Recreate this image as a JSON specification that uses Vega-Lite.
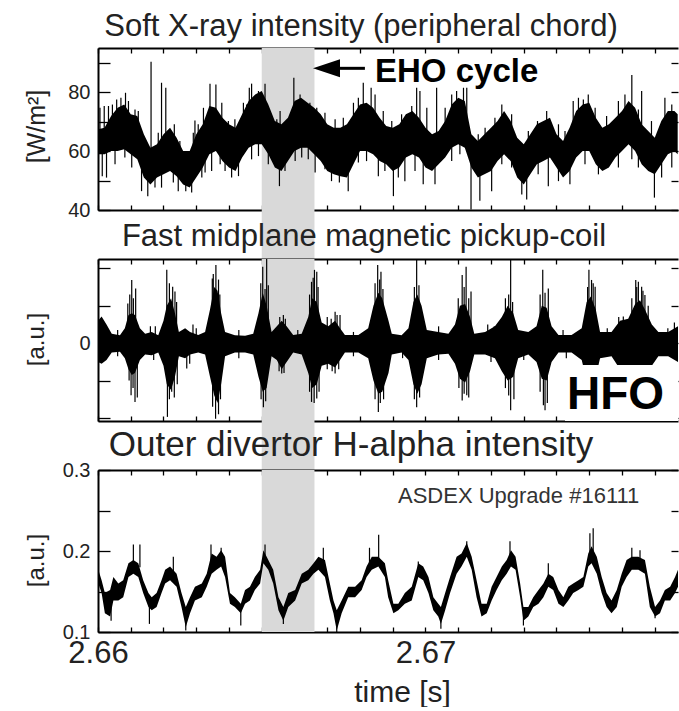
{
  "$schema": "https://vega.github.io/schema/vega-lite/v6.json",
  "padding": {"left": 24, "top": 11, "right": 0, "bottom": 0},
  "spacing": 49,
  "bounds": "flush",
  "config": {
    "view": {"stroke": null},
    "font": "Liberation Sans",
    "title": {"font": "Liberation Sans", "fontSize": 31, "fontWeight": "normal", "color": "#222", "anchor": "middle", "baseline": "alphabetic", "frame": "group"},
    "axis": {"grid": false, "zindex": 1, "domainColor": "black", "domainWidth": 2, "tickColor": "black", "tickWidth": 1.3, "labelFont": "Liberation Sans", "titleFont": "Liberation Sans", "labelColor": "#222", "titleColor": "#222", "titleFontWeight": "normal", "labelOverlap": false, "labelFlush": false}
  },
  "datasets": {
    "sxr": [
      {"t":2.6600,"lo":58.9,"hi":67.4},{"t":2.6602,"lo":58.9,"hi":67.9},{"t":2.6604,"lo":60.0,"hi":71.9},{"t":2.6606,"lo":60.0,"hi":74.7},{"t":2.6608,"lo":60.6,"hi":75.8},{"t":2.6610,"lo":58.9,"hi":72.5},{"t":2.6612,"lo":57.2,"hi":71.9},{"t":2.6614,"lo":51.0,"hi":65.7},{"t":2.6616,"lo":48.7,"hi":61.1},{"t":2.6618,"lo":51.0,"hi":62.3},
      {"t":2.6620,"lo":52.1,"hi":65.7},{"t":2.6622,"lo":53.2,"hi":67.9},{"t":2.6624,"lo":51.5,"hi":64.5},{"t":2.6626,"lo":48.7,"hi":60.0},{"t":2.6628,"lo":47.6,"hi":60.0},{"t":2.6630,"lo":51.0,"hi":65.7},{"t":2.6632,"lo":54.4,"hi":69.1},{"t":2.6634,"lo":58.9,"hi":75.3},{"t":2.6636,"lo":60.0,"hi":74.7},{"t":2.6638,"lo":56.6,"hi":71.3},
      {"t":2.6640,"lo":54.4,"hi":69.1},{"t":2.6642,"lo":53.2,"hi":67.9},{"t":2.6644,"lo":57.8,"hi":72.5},{"t":2.6646,"lo":61.1,"hi":77.0},{"t":2.6648,"lo":62.3,"hi":79.2},{"t":2.6650,"lo":62.3,"hi":80.4},{"t":2.6652,"lo":58.9,"hi":75.8},{"t":2.6654,"lo":54.4,"hi":70.2},{"t":2.6656,"lo":53.2,"hi":69.1},{"t":2.6658,"lo":56.6,"hi":71.3},
      {"t":2.6660,"lo":60.0,"hi":77.0},{"t":2.6662,"lo":61.1,"hi":78.1},{"t":2.6664,"lo":61.1,"hi":76.4},{"t":2.6666,"lo":58.9,"hi":74.7},{"t":2.6668,"lo":56.6,"hi":72.5},{"t":2.6670,"lo":53.2,"hi":69.1},{"t":2.6672,"lo":52.1,"hi":67.9},{"t":2.6674,"lo":51.5,"hi":67.9},{"t":2.6676,"lo":51.0,"hi":69.1},{"t":2.6678,"lo":55.5,"hi":72.5},
      {"t":2.6680,"lo":60.0,"hi":75.8},{"t":2.6682,"lo":60.0,"hi":76.4},{"t":2.6684,"lo":58.9,"hi":74.7},{"t":2.6686,"lo":56.6,"hi":71.3},{"t":2.6688,"lo":55.5,"hi":68.5},{"t":2.6690,"lo":53.2,"hi":67.9},{"t":2.6692,"lo":54.4,"hi":69.1},{"t":2.6694,"lo":57.8,"hi":72.5},{"t":2.6696,"lo":58.9,"hi":73.6},{"t":2.6698,"lo":57.8,"hi":71.3},
      {"t":2.6700,"lo":54.4,"hi":67.9},{"t":2.6702,"lo":53.2,"hi":65.7},{"t":2.6704,"lo":55.5,"hi":66.8},{"t":2.6706,"lo":57.8,"hi":70.2},{"t":2.6708,"lo":61.1,"hi":75.8},{"t":2.6710,"lo":62.3,"hi":78.1},{"t":2.6712,"lo":61.1,"hi":77.0},{"t":2.6714,"lo":54.4,"hi":65.7},{"t":2.6716,"lo":51.0,"hi":63.4},{"t":2.6718,"lo":52.1,"hi":65.7},
      {"t":2.6720,"lo":53.2,"hi":67.9},{"t":2.6722,"lo":56.6,"hi":70.2},{"t":2.6724,"lo":58.9,"hi":73.6},{"t":2.6726,"lo":56.6,"hi":70.2},{"t":2.6728,"lo":51.0,"hi":64.5},{"t":2.6730,"lo":48.7,"hi":62.3},{"t":2.6732,"lo":52.1,"hi":65.7},{"t":2.6734,"lo":55.5,"hi":69.1},{"t":2.6736,"lo":56.6,"hi":70.2},{"t":2.6738,"lo":57.8,"hi":71.3},
      {"t":2.6740,"lo":54.4,"hi":65.7},{"t":2.6742,"lo":51.0,"hi":63.4},{"t":2.6744,"lo":53.2,"hi":67.9},{"t":2.6746,"lo":57.8,"hi":73.6},{"t":2.6748,"lo":60.0,"hi":75.8},{"t":2.6750,"lo":60.0,"hi":76.4},{"t":2.6752,"lo":55.5,"hi":71.3},{"t":2.6754,"lo":53.2,"hi":67.9},{"t":2.6756,"lo":54.4,"hi":69.1},{"t":2.6758,"lo":57.8,"hi":71.3},
      {"t":2.6760,"lo":60.0,"hi":73.6},{"t":2.6762,"lo":62.3,"hi":77.0},{"t":2.6764,"lo":60.0,"hi":74.7},{"t":2.6766,"lo":55.5,"hi":69.1},{"t":2.6768,"lo":53.2,"hi":66.8},{"t":2.6770,"lo":52.1,"hi":64.5},{"t":2.6772,"lo":55.5,"hi":70.2},{"t":2.6774,"lo":58.9,"hi":73.6},{"t":2.6776,"lo":60.0,"hi":73.6},{"t":2.6777,"lo":58.9,"hi":72.5}
    ],
    "sxrSpk": [
      {"t":2.66032,"a":75.3,"b":65},{"t":2.66057,"a":77.5,"b":68},{"t":2.66070,"a":78.1,"b":68},{"t":2.66084,"a":79.8,"b":70},{"t":2.66113,"a":74.1,"b":65},{"t":2.66162,"a":90.3,"b":55},{"t":2.66194,"a":83.2,"b":58},{"t":2.66207,"a":81.5,"b":58},{"t":2.66233,"a":69.1,"b":60},{"t":2.66296,"a":70.4,"b":58},
      {"t":2.66322,"a":74.7,"b":62},{"t":2.66342,"a":82.9,"b":66},{"t":2.66360,"a":82.6,"b":66},{"t":2.66378,"a":76.4,"b":64},{"t":2.66444,"a":76.4,"b":64},{"t":2.66462,"a":81.5,"b":68},{"t":2.66469,"a":82.9,"b":68},{"t":2.66510,"a":82.9,"b":70},{"t":2.66556,"a":73.6,"b":62},{"t":2.66598,"a":84.9,"b":68},
      {"t":2.66617,"a":79.2,"b":68},{"t":2.66724,"a":70.8,"b":60},{"t":2.66749,"a":71.3,"b":60},{"t":2.66810,"a":83.2,"b":68},{"t":2.66834,"a":81.5,"b":68},{"t":2.66846,"a":79.2,"b":66},{"t":2.66958,"a":75.3,"b":66},{"t":2.66973,"a":81.5,"b":66},{"t":2.66983,"a":80.4,"b":64},{"t":2.67034,"a":81.5,"b":62},
      {"t":2.67116,"a":81.5,"b":70},{"t":2.67126,"a":81.5,"b":68},{"t":2.67233,"a":75.8,"b":66},{"t":2.67342,"a":70.2,"b":62},{"t":2.67370,"a":73.6,"b":64},{"t":2.67451,"a":77.0,"b":66},{"t":2.67497,"a":79.2,"b":68},{"t":2.67589,"a":77.0,"b":66},{"t":2.67630,"a":85.8,"b":70},{"t":2.67660,"a":80.4,"b":64},{"t":2.67731,"a":78.1,"b":66},
      {"t":2.66013,"a":51.5,"b":62},{"t":2.66026,"a":51.0,"b":62},{"t":2.66133,"a":46.4,"b":58},{"t":2.66152,"a":44.7,"b":56},{"t":2.66174,"a":47.6,"b":56},{"t":2.66230,"a":49.3,"b":58},{"t":2.66268,"a":46.4,"b":54},{"t":2.66286,"a":45.9,"b":54},{"t":2.66347,"a":53.2,"b":64},{"t":2.66373,"a":55.5,"b":64},
      {"t":2.66408,"a":51.0,"b":60},{"t":2.66554,"a":48.1,"b":60},{"t":2.66571,"a":53.2,"b":62},{"t":2.66663,"a":52.7,"b":64},{"t":2.66713,"a":49.8,"b":60},{"t":2.66737,"a":49.3,"b":58},{"t":2.66764,"a":46.4,"b":58},{"t":2.66856,"a":51.5,"b":62},{"t":2.66902,"a":44.7,"b":58},{"t":2.66937,"a":49.8,"b":60},
      {"t":2.66993,"a":48.7,"b":60},{"t":2.67029,"a":48.7,"b":60},{"t":2.67139,"a":40.2,"b":60},{"t":2.67166,"a":43.1,"b":58},{"t":2.67202,"a":46.4,"b":58},{"t":2.67294,"a":45.3,"b":56},{"t":2.67309,"a":43.6,"b":56},{"t":2.67375,"a":48.1,"b":60},{"t":2.67441,"a":48.7,"b":60},{"t":2.67528,"a":52.1,"b":60},{"t":2.67699,"a":44.2,"b":58},{"t":2.67721,"a":51.0,"b":60},
      {"t":2.66006,"a":74.7,"b":63},{"t":2.66019,"a":75.3,"b":63},{"t":2.66044,"a":75.8,"b":66},{"t":2.66093,"a":77.0,"b":66},{"t":2.66123,"a":73.6,"b":64},{"t":2.66184,"a":66.2,"b":57},{"t":2.66220,"a":67.4,"b":59},{"t":2.66250,"a":63.4,"b":56},{"t":2.66291,"a":66.2,"b":56},{"t":2.66306,"a":69.1,"b":58},
      {"t":2.66398,"a":70.2,"b":62},{"t":2.66418,"a":70.8,"b":61},{"t":2.66454,"a":75.8,"b":68},{"t":2.66490,"a":80.4,"b":70},{"t":2.66530,"a":71.9,"b":64},{"t":2.66546,"a":70.8,"b":62},{"t":2.66647,"a":76.4,"b":68},{"t":2.66668,"a":74.7,"b":66},{"t":2.66693,"a":73.0,"b":64},{"t":2.66780,"a":76.4,"b":66},
      {"t":2.66795,"a":78.1,"b":68},{"t":2.66871,"a":73.6,"b":63},{"t":2.66897,"a":70.2,"b":62},{"t":2.66927,"a":72.5,"b":62},{"t":2.67004,"a":74.7,"b":62},{"t":2.67060,"a":74.7,"b":64},{"t":2.67080,"a":79.2,"b":68},{"t":2.67095,"a":80.4,"b":70},{"t":2.67161,"a":65.7,"b":57},{"t":2.67182,"a":67.9,"b":58},
      {"t":2.67212,"a":71.3,"b":61},{"t":2.67263,"a":72.5,"b":63},{"t":2.67314,"a":66.8,"b":58},{"t":2.67406,"a":69.1,"b":60},{"t":2.67426,"a":66.8,"b":58},{"t":2.67467,"a":78.1,"b":68},{"t":2.67482,"a":77.5,"b":68},{"t":2.67518,"a":74.7,"b":64},{"t":2.67553,"a":71.9,"b":62},{"t":2.67609,"a":79.2,"b":68},
      {"t":2.67650,"a":74.1,"b":64},{"t":2.67690,"a":70.2,"b":60},{"t":2.67752,"a":75.8,"b":66},
      {"t":2.66052,"a":55.5,"b":65},{"t":2.66082,"a":57.8,"b":66},{"t":2.66103,"a":54.4,"b":64},{"t":2.66194,"a":47.6,"b":58},{"t":2.66245,"a":46.4,"b":58},{"t":2.66317,"a":51.0,"b":60},{"t":2.66327,"a":52.7,"b":62},{"t":2.66388,"a":53.2,"b":62},{"t":2.66429,"a":51.5,"b":60},{"t":2.66469,"a":57.2,"b":68},
      {"t":2.66490,"a":58.3,"b":70},{"t":2.66520,"a":55.5,"b":66},{"t":2.66602,"a":56.6,"b":68},{"t":2.66622,"a":57.8,"b":68},{"t":2.66642,"a":57.2,"b":68},{"t":2.66693,"a":53.8,"b":62},{"t":2.66795,"a":56.1,"b":66},{"t":2.66820,"a":56.6,"b":68},{"t":2.66876,"a":53.2,"b":62},{"t":2.66917,"a":51.0,"b":60},
      {"t":2.66968,"a":53.2,"b":62},{"t":2.67080,"a":56.6,"b":66},{"t":2.67105,"a":58.9,"b":68},{"t":2.67233,"a":55.5,"b":64},{"t":2.67263,"a":54.4,"b":63},{"t":2.67344,"a":52.1,"b":62},{"t":2.67406,"a":49.8,"b":60},{"t":2.67487,"a":55.5,"b":66},{"t":2.67589,"a":54.4,"b":64},{"t":2.67630,"a":57.2,"b":66},
      {"t":2.67650,"a":54.4,"b":63},{"t":2.67752,"a":54.4,"b":64}
    ],
    "mag": [
      {"t":2.66000,"lo":-0.5,"hi":0.6},{"t":2.66011,"lo":-0.55,"hi":0.71},{"t":2.66026,"lo":-0.45,"hi":0.5},{"t":2.66042,"lo":-0.25,"hi":0.25},{"t":2.66067,"lo":-0.23,"hi":0.21},{"t":2.66082,"lo":-0.4,"hi":0.4},{"t":2.66093,"lo":-0.7,"hi":0.75},{"t":2.66103,"lo":-0.85,"hi":0.8},{"t":2.66113,"lo":-0.8,"hi":0.75},{"t":2.66128,"lo":-0.45,"hi":0.4},
      {"t":2.66144,"lo":-0.3,"hi":0.25},{"t":2.66164,"lo":-0.32,"hi":0.3},{"t":2.66184,"lo":-0.25,"hi":0.21},{"t":2.66200,"lo":-0.6,"hi":0.6},{"t":2.66210,"lo":-1.1,"hi":1.0},{"t":2.66223,"lo":-1.25,"hi":1.2},{"t":2.66235,"lo":-0.9,"hi":0.8},{"t":2.66247,"lo":-0.35,"hi":0.3},{"t":2.66266,"lo":-0.4,"hi":0.4},{"t":2.66281,"lo":-0.3,"hi":0.3},
      {"t":2.66306,"lo":-0.25,"hi":0.22},{"t":2.66327,"lo":-0.3,"hi":0.3},{"t":2.66342,"lo":-0.9,"hi":0.9},{"t":2.66355,"lo":-1.4,"hi":1.5},{"t":2.66365,"lo":-1.6,"hi":1.4},{"t":2.66376,"lo":-1.1,"hi":0.8},{"t":2.66388,"lo":-0.35,"hi":0.3},{"t":2.66418,"lo":-0.25,"hi":0.21},{"t":2.66449,"lo":-0.25,"hi":0.2},{"t":2.66474,"lo":-0.3,"hi":0.25},
      {"t":2.66490,"lo":-0.9,"hi":0.8},{"t":2.66503,"lo":-1.3,"hi":1.35},{"t":2.66515,"lo":-1.2,"hi":1.0},{"t":2.66530,"lo":-0.35,"hi":0.3},{"t":2.66546,"lo":-0.45,"hi":0.45},{"t":2.66561,"lo":-0.7,"hi":0.6},{"t":2.66576,"lo":-0.5,"hi":0.45},{"t":2.66596,"lo":-0.25,"hi":0.22},{"t":2.66622,"lo":-0.3,"hi":0.25},{"t":2.66642,"lo":-0.8,"hi":0.7},
      {"t":2.66654,"lo":-1.2,"hi":1.2},{"t":2.66668,"lo":-1.1,"hi":1.1},{"t":2.66683,"lo":-0.6,"hi":0.55},{"t":2.66703,"lo":-0.55,"hi":0.45},{"t":2.66724,"lo":-0.65,"hi":0.6},{"t":2.66739,"lo":-0.45,"hi":0.4},{"t":2.66754,"lo":-0.25,"hi":0.22},{"t":2.66795,"lo":-0.25,"hi":0.22},{"t":2.66825,"lo":-0.4,"hi":0.4},{"t":2.66841,"lo":-1.0,"hi":1.0},
      {"t":2.66856,"lo":-1.35,"hi":1.35},{"t":2.66868,"lo":-1.3,"hi":1.2},{"t":2.66887,"lo":-0.8,"hi":0.6},{"t":2.66897,"lo":-0.3,"hi":0.25},{"t":2.66927,"lo":-0.25,"hi":0.21},{"t":2.66948,"lo":-0.45,"hi":0.4},{"t":2.66963,"lo":-1.1,"hi":1.1},{"t":2.66975,"lo":-1.35,"hi":1.3},{"t":2.66988,"lo":-1.1,"hi":1.0},{"t":2.67004,"lo":-0.4,"hi":0.35},
      {"t":2.67039,"lo":-0.3,"hi":0.3},{"t":2.67070,"lo":-0.28,"hi":0.25},{"t":2.67090,"lo":-0.55,"hi":0.5},{"t":2.67105,"lo":-0.95,"hi":1.0},{"t":2.67121,"lo":-1.05,"hi":1.05},{"t":2.67136,"lo":-0.75,"hi":0.7},{"t":2.67149,"lo":-0.3,"hi":0.25},{"t":2.67182,"lo":-0.3,"hi":0.3},{"t":2.67212,"lo":-0.4,"hi":0.45},{"t":2.67233,"lo":-0.75,"hi":0.7},
      {"t":2.67251,"lo":-1.0,"hi":1.0},{"t":2.67268,"lo":-0.9,"hi":0.8},{"t":2.67283,"lo":-0.4,"hi":0.35},{"t":2.67314,"lo":-0.3,"hi":0.3},{"t":2.67339,"lo":-0.5,"hi":0.45},{"t":2.67355,"lo":-0.95,"hi":1.0},{"t":2.67370,"lo":-1.0,"hi":0.95},{"t":2.67385,"lo":-0.5,"hi":0.45},{"t":2.67406,"lo":-0.25,"hi":0.22},{"t":2.67446,"lo":-0.25,"hi":0.22},
      {"t":2.67477,"lo":-0.45,"hi":0.4},{"t":2.67492,"lo":-1.0,"hi":1.1},{"t":2.67505,"lo":-1.1,"hi":1.25},{"t":2.67520,"lo":-0.9,"hi":0.9},{"t":2.67533,"lo":-0.4,"hi":0.3},{"t":2.67568,"lo":-0.35,"hi":0.3},{"t":2.67594,"lo":-0.7,"hi":0.6},{"t":2.67619,"lo":-0.8,"hi":0.65},{"t":2.67640,"lo":-1.0,"hi":1.05},{"t":2.67655,"lo":-1.1,"hi":1.15},
      {"t":2.67670,"lo":-0.9,"hi":0.9},{"t":2.67691,"lo":-0.6,"hi":0.5},{"t":2.67711,"lo":-0.35,"hi":0.3},{"t":2.67741,"lo":-0.35,"hi":0.3},{"t":2.67771,"lo":-0.5,"hi":0.45}
    ],
    "magSpk": [
      {"t":2.66103,"a":1.69,"b":0},{"t":2.66091,"a":1.06,"b":0},{"t":2.66115,"a":1.46,"b":0},{"t":2.66210,"a":1.96,"b":0},{"t":2.66228,"a":1.51,"b":0},{"t":2.66235,"a":1.38,"b":0},{"t":2.66360,"a":2.09,"b":0},{"t":2.66349,"a":1.73,"b":0},{"t":2.66503,"a":2.04,"b":0},{"t":2.66515,"a":2.25,"b":0},
      {"t":2.66520,"a":1.55,"b":0},{"t":2.66661,"a":1.96,"b":0},{"t":2.66668,"a":1.91,"b":0},{"t":2.66652,"a":1.64,"b":0},{"t":2.66724,"a":0.84,"b":0},{"t":2.66739,"a":0.75,"b":0},{"t":2.66854,"a":2.09,"b":0},{"t":2.66864,"a":1.91,"b":0},{"t":2.66566,"a":0.75,"b":0},{"t":2.66973,"a":2.25,"b":-1.71},
      {"t":2.67112,"a":1.82,"b":-1.53},{"t":2.67124,"a":2.04,"b":0},{"t":2.67139,"a":1.38,"b":0},{"t":2.67260,"a":2.25,"b":-1.79},{"t":2.67358,"a":1.96,"b":0},{"t":2.67375,"a":1.46,"b":0},{"t":2.67499,"a":1.96,"b":0},{"t":2.67507,"a":1.69,"b":0},{"t":2.67518,"a":1.51,"b":0},{"t":2.67642,"a":1.69,"b":0},
      {"t":2.67650,"a":1.64,"b":0},{"t":2.67660,"a":1.51,"b":0},{"t":2.67670,"a":1.29,"b":0},{"t":2.67604,"a":0.71,"b":0},
      {"t":2.66113,"a":-1.57,"b":0},{"t":2.66101,"a":-1.39,"b":0},{"t":2.66212,"a":-1.97,"b":0},{"t":2.66225,"a":-1.30,"b":0},{"t":2.66359,"a":-2.02,"b":0},{"t":2.66505,"a":-1.71,"b":0},{"t":2.66652,"a":-1.57,"b":0},{"t":2.66668,"a":-1.48,"b":0},{"t":2.66856,"a":-1.84,"b":0},{"t":2.66271,"a":-0.68,"b":0},
      {"t":2.66561,"a":-0.81,"b":0},{"t":2.66724,"a":-0.81,"b":0},{"t":2.67126,"a":-1.39,"b":0},{"t":2.67365,"a":-1.79,"b":0},{"t":2.67360,"a":-1.66,"b":0},
      {"t":2.66097,"a":1.30,"b":0},{"t":2.66108,"a":1.20,"b":0},{"t":2.66095,"a":-1.0,"b":0},{"t":2.66107,"a":-1.2,"b":0},{"t":2.66120,"a":-1.45,"b":0},
      {"t":2.66218,"a":1.6,"b":0},{"t":2.66240,"a":1.1,"b":0},{"t":2.66218,"a":-1.5,"b":0},{"t":2.66233,"a":-1.45,"b":0},{"t":2.66242,"a":-1.1,"b":0},
      {"t":2.66352,"a":1.85,"b":0},{"t":2.66368,"a":1.7,"b":0},{"t":2.66372,"a":1.3,"b":0},{"t":2.66350,"a":-1.7,"b":0},{"t":2.66368,"a":-1.9,"b":0},{"t":2.66374,"a":-1.5,"b":0},
      {"t":2.66497,"a":1.6,"b":0},{"t":2.66510,"a":1.45,"b":0},{"t":2.66498,"a":-1.5,"b":0},{"t":2.66512,"a":-1.55,"b":0},
      {"t":2.66555,"a":0.7,"b":0},{"t":2.66572,"a":0.65,"b":0},{"t":2.66553,"a":-0.75,"b":0},{"t":2.66568,"a":-0.8,"b":0},
      {"t":2.66646,"a":1.3,"b":0},{"t":2.66657,"a":1.75,"b":0},{"t":2.66672,"a":1.5,"b":0},{"t":2.66646,"a":-1.3,"b":0},{"t":2.66660,"a":-1.6,"b":0},{"t":2.66675,"a":-1.3,"b":0},
      {"t":2.66700,"a":0.7,"b":0},{"t":2.66712,"a":0.65,"b":0},{"t":2.66730,"a":0.75,"b":0},{"t":2.66700,"a":-0.7,"b":0},{"t":2.66715,"a":-0.75,"b":0},{"t":2.66735,"a":-0.7,"b":0},
      {"t":2.66846,"a":1.6,"b":0},{"t":2.66860,"a":1.7,"b":0},{"t":2.66870,"a":1.45,"b":0},{"t":2.66846,"a":-1.5,"b":0},{"t":2.66862,"a":-1.6,"b":0},{"t":2.66872,"a":-1.5,"b":0},
      {"t":2.66966,"a":1.5,"b":0},{"t":2.66980,"a":1.55,"b":0},{"t":2.66966,"a":-1.5,"b":0},{"t":2.66982,"a":-1.45,"b":0},
      {"t":2.67100,"a":1.2,"b":0},{"t":2.67118,"a":1.5,"b":0},{"t":2.67132,"a":1.2,"b":0},{"t":2.67102,"a":-1.2,"b":0},{"t":2.67118,"a":-1.35,"b":0},{"t":2.67132,"a":-1.45,"b":0},
      {"t":2.67244,"a":1.2,"b":0},{"t":2.67254,"a":1.3,"b":0},{"t":2.67266,"a":1.1,"b":0},{"t":2.67244,"a":-1.2,"b":0},{"t":2.67254,"a":-1.4,"b":0},{"t":2.67270,"a":-1.5,"b":0},
      {"t":2.67350,"a":1.3,"b":0},{"t":2.67365,"a":1.35,"b":0},{"t":2.67350,"a":-1.3,"b":0},{"t":2.67372,"a":-1.6,"b":0},
      {"t":2.67495,"a":1.5,"b":0},{"t":2.67512,"a":1.6,"b":0},
      {"t":2.67630,"a":1.2,"b":0},{"t":2.67645,"a":1.5,"b":0},{"t":2.67664,"a":1.4,"b":0},{"t":2.67680,"a":1.0,"b":0},
      {"t":2.66060,"a":0.35,"b":0},{"t":2.66160,"a":0.45,"b":0},{"t":2.66175,"a":0.45,"b":0},{"t":2.66290,"a":0.5,"b":0},{"t":2.66300,"a":0.4,"b":0},{"t":2.66430,"a":0.35,"b":0},{"t":2.66610,"a":0.35,"b":0},{"t":2.66780,"a":0.3,"b":0},{"t":2.67040,"a":0.45,"b":0},{"t":2.67190,"a":0.5,"b":0},
      {"t":2.67210,"a":0.45,"b":0},{"t":2.67420,"a":0.35,"b":0},{"t":2.67555,"a":0.4,"b":0},{"t":2.67590,"a":0.7,"b":0},{"t":2.67740,"a":0.4,"b":0},{"t":2.67760,"a":0.55,"b":0},
      {"t":2.66060,"a":-0.35,"b":0},{"t":2.66170,"a":-0.45,"b":0},{"t":2.66280,"a":-0.55,"b":0},{"t":2.66430,"a":-0.4,"b":0},{"t":2.66780,"a":-0.35,"b":0},{"t":2.66930,"a":-0.4,"b":0},{"t":2.67040,"a":-0.45,"b":0},{"t":2.67200,"a":-0.5,"b":0},{"t":2.67300,"a":-0.45,"b":0},{"t":2.67430,"a":-0.4,"b":0}
    ],
    "ha": [
      {"t":2.66001,"lo":0.160,"hi":0.177},{"t":2.66011,"lo":0.148,"hi":0.164},{"t":2.66021,"lo":0.123,"hi":0.148},{"t":2.66037,"lo":0.119,"hi":0.152},{"t":2.66047,"lo":0.139,"hi":0.168},{"t":2.66062,"lo":0.139,"hi":0.160},{"t":2.66077,"lo":0.143,"hi":0.164},{"t":2.66093,"lo":0.168,"hi":0.185},{"t":2.66108,"lo":0.172,"hi":0.189},{"t":2.66123,"lo":0.168,"hi":0.185},
      {"t":2.66138,"lo":0.148,"hi":0.164},{"t":2.66154,"lo":0.131,"hi":0.148},{"t":2.66164,"lo":0.127,"hi":0.143},{"t":2.66179,"lo":0.131,"hi":0.148},{"t":2.66194,"lo":0.148,"hi":0.164},{"t":2.66205,"lo":0.160,"hi":0.177},{"t":2.66220,"lo":0.164,"hi":0.181},{"t":2.66240,"lo":0.156,"hi":0.172},{"t":2.66255,"lo":0.131,"hi":0.148},{"t":2.66268,"lo":0.106,"hi":0.131},
      {"t":2.66281,"lo":0.123,"hi":0.143},{"t":2.66296,"lo":0.139,"hi":0.156},{"t":2.66317,"lo":0.143,"hi":0.160},{"t":2.66332,"lo":0.156,"hi":0.172},{"t":2.66347,"lo":0.172,"hi":0.197},{"t":2.66362,"lo":0.177,"hi":0.193},{"t":2.66376,"lo":0.181,"hi":0.201},{"t":2.66388,"lo":0.168,"hi":0.193},{"t":2.66403,"lo":0.135,"hi":0.148},{"t":2.66418,"lo":0.131,"hi":0.143},
      {"t":2.66436,"lo":0.123,"hi":0.135},{"t":2.66449,"lo":0.135,"hi":0.152},{"t":2.66464,"lo":0.139,"hi":0.156},{"t":2.66479,"lo":0.152,"hi":0.168},{"t":2.66495,"lo":0.160,"hi":0.177},{"t":2.66505,"lo":0.185,"hi":0.201},{"t":2.66520,"lo":0.177,"hi":0.189},{"t":2.66535,"lo":0.160,"hi":0.177},{"t":2.66551,"lo":0.127,"hi":0.143},{"t":2.66566,"lo":0.114,"hi":0.131},
      {"t":2.66581,"lo":0.131,"hi":0.148},{"t":2.66602,"lo":0.139,"hi":0.152},{"t":2.66622,"lo":0.160,"hi":0.172},{"t":2.66642,"lo":0.164,"hi":0.177},{"t":2.66658,"lo":0.172,"hi":0.185},{"t":2.66673,"lo":0.177,"hi":0.193},{"t":2.66693,"lo":0.168,"hi":0.189},{"t":2.66708,"lo":0.139,"hi":0.160},{"t":2.66719,"lo":0.123,"hi":0.139},{"t":2.66729,"lo":0.102,"hi":0.127},
      {"t":2.66744,"lo":0.123,"hi":0.139},{"t":2.66764,"lo":0.143,"hi":0.156},{"t":2.66785,"lo":0.143,"hi":0.156},{"t":2.66805,"lo":0.152,"hi":0.164},{"t":2.66820,"lo":0.168,"hi":0.181},{"t":2.66836,"lo":0.177,"hi":0.193},{"t":2.66856,"lo":0.181,"hi":0.193},{"t":2.66876,"lo":0.168,"hi":0.185},{"t":2.66886,"lo":0.143,"hi":0.164},{"t":2.66902,"lo":0.123,"hi":0.135},
      {"t":2.66917,"lo":0.127,"hi":0.135},{"t":2.66937,"lo":0.135,"hi":0.148},{"t":2.66958,"lo":0.139,"hi":0.156},{"t":2.66978,"lo":0.168,"hi":0.185},{"t":2.66993,"lo":0.164,"hi":0.181},{"t":2.67009,"lo":0.148,"hi":0.168},{"t":2.67024,"lo":0.127,"hi":0.143},{"t":2.67039,"lo":0.119,"hi":0.135},{"t":2.67047,"lo":0.110,"hi":0.131},{"t":2.67060,"lo":0.127,"hi":0.148},
      {"t":2.67075,"lo":0.148,"hi":0.168},{"t":2.67095,"lo":0.172,"hi":0.193},{"t":2.67110,"lo":0.181,"hi":0.197},{"t":2.67126,"lo":0.193,"hi":0.210},{"t":2.67141,"lo":0.177,"hi":0.193},{"t":2.67156,"lo":0.143,"hi":0.164},{"t":2.67171,"lo":0.119,"hi":0.135},{"t":2.67187,"lo":0.123,"hi":0.135},{"t":2.67202,"lo":0.139,"hi":0.156},{"t":2.67217,"lo":0.152,"hi":0.168},
      {"t":2.67233,"lo":0.164,"hi":0.181},{"t":2.67248,"lo":0.172,"hi":0.189},{"t":2.67261,"lo":0.181,"hi":0.201},{"t":2.67275,"lo":0.177,"hi":0.193},{"t":2.67289,"lo":0.143,"hi":0.160},{"t":2.67299,"lo":0.114,"hi":0.131},{"t":2.67314,"lo":0.119,"hi":0.131},{"t":2.67329,"lo":0.131,"hi":0.143},{"t":2.67345,"lo":0.135,"hi":0.152},{"t":2.67360,"lo":0.143,"hi":0.160},
      {"t":2.67375,"lo":0.156,"hi":0.172},{"t":2.67390,"lo":0.152,"hi":0.168},{"t":2.67406,"lo":0.135,"hi":0.152},{"t":2.67421,"lo":0.131,"hi":0.143},{"t":2.67436,"lo":0.139,"hi":0.156},{"t":2.67451,"lo":0.148,"hi":0.160},{"t":2.67467,"lo":0.152,"hi":0.164},{"t":2.67482,"lo":0.156,"hi":0.168},{"t":2.67497,"lo":0.181,"hi":0.197},{"t":2.67507,"lo":0.185,"hi":0.206},
      {"t":2.67523,"lo":0.172,"hi":0.193},{"t":2.67538,"lo":0.148,"hi":0.168},{"t":2.67553,"lo":0.131,"hi":0.148},{"t":2.67568,"lo":0.123,"hi":0.139},{"t":2.67584,"lo":0.131,"hi":0.152},{"t":2.67599,"lo":0.156,"hi":0.172},{"t":2.67614,"lo":0.168,"hi":0.189},{"t":2.67630,"lo":0.177,"hi":0.193},{"t":2.67650,"lo":0.177,"hi":0.193},{"t":2.67670,"lo":0.172,"hi":0.189},
      {"t":2.67685,"lo":0.131,"hi":0.156},{"t":2.67701,"lo":0.119,"hi":0.131},{"t":2.67716,"lo":0.123,"hi":0.139},{"t":2.67731,"lo":0.139,"hi":0.152},{"t":2.67747,"lo":0.139,"hi":0.156},{"t":2.67762,"lo":0.148,"hi":0.168},{"t":2.67771,"lo":0.156,"hi":0.177}
    ],
    "haSpk": [
      {"t":2.66108,"a":0.208,"b":0.180},{"t":2.66128,"a":0.208,"b":0.180},{"t":2.66157,"a":0.110,"b":0.135},{"t":2.66040,"a":0.114,"b":0.135},{"t":2.66230,"a":0.193,"b":0.172},{"t":2.66268,"a":0.102,"b":0.120},{"t":2.66345,"a":0.208,"b":0.185},{"t":2.66376,"a":0.204,"b":0.190},{"t":2.66436,"a":0.108,"b":0.128},{"t":2.66510,"a":0.208,"b":0.190},
      {"t":2.66566,"a":0.110,"b":0.125},{"t":2.66688,"a":0.204,"b":0.185},{"t":2.66729,"a":0.100,"b":0.115},{"t":2.66829,"a":0.204,"b":0.185},{"t":2.66857,"a":0.220,"b":0.185},{"t":2.66978,"a":0.187,"b":0.175},{"t":2.67047,"a":0.104,"b":0.120},{"t":2.67126,"a":0.212,"b":0.200},{"t":2.67258,"a":0.212,"b":0.195},{"t":2.67299,"a":0.108,"b":0.125},
      {"t":2.67375,"a":0.185,"b":0.165},{"t":2.67512,"a":0.228,"b":0.200},{"t":2.67502,"a":0.222,"b":0.195},{"t":2.67630,"a":0.204,"b":0.185},{"t":2.67655,"a":0.201,"b":0.185},{"t":2.67701,"a":0.117,"b":0.125}
    ]
  },
  "vconcat": [
    {
      "width": 580, "height": 162,
      "title": {"text": "Soft X-ray intensity (peripheral chord)", "dx": -27, "offset": 4},
      "layer": [
        {
          "data": {"values": [{"t0": 2.665, "t1": 2.66661, "y0": 95, "y1": 23.4}]},
          "mark": {"type": "rect", "color": "#d9d9d9", "clip": false},
          "encoding": {
            "x": {"field": "t0", "type": "quantitative", "scale": {"domain": [2.66, 2.67771], "nice": false, "zero": false},
                  "axis": {"orient": "top", "values": [2.66,2.661,2.662,2.663,2.664,2.665,2.666,2.667,2.668,2.669,2.67,2.671,2.672,2.673,2.674,2.675,2.676,2.677], "labels": false, "tickSize": -5, "title": null}},
            "x2": {"field": "t1"},
            "y": {"field": "y0", "type": "quantitative", "scale": {"domain": [40, 95], "nice": false, "zero": false}, "axis": null},
            "y2": {"field": "y1"}
          }
        },
        {
          "data": {"name": "sxr"},
          "mark": {"type": "area", "color": "black", "opacity": 1, "clip": true},
          "encoding": {
            "x": {"field": "t", "type": "quantitative", "scale": {"domain": [2.66, 2.67771], "nice": false, "zero": false},
                  "axis": {"orient": "bottom", "values": [2.66,2.661,2.662,2.663,2.664,2.665,2.666,2.667,2.668,2.669,2.67,2.671,2.672,2.673,2.674,2.675,2.676,2.677], "labels": false, "tickSize": -5, "title": null}},
            "y": {"field": "hi", "type": "quantitative", "scale": {"domain": [40, 95], "nice": false, "zero": false},
                  "axis": {"orient": "left", "values": [40,50,60,70,80,90], "tickSize": -12, "labelPadding": 20, "labelFontSize": 20, "labelExpr": "datum.value % 20 == 0 ? datum.label : ''", "title": "[W/m²]", "titleFontSize": 25, "titleX": -62, "titleY": 78, "titleAngle": -90, "titleAlign": "center", "titleBaseline": "middle"}},
            "y2": {"field": "lo"}
          }
        },
        {
          "data": {"name": "sxrSpk"},
          "mark": {"type": "rule", "color": "black", "strokeWidth": 1.2, "clip": true},
          "encoding": {
            "x": {"field": "t", "type": "quantitative", "scale": {"domain": [2.66, 2.67771], "nice": false, "zero": false}, "axis": null},
            "y": {"field": "a", "type": "quantitative", "scale": {"domain": [40, 95], "nice": false, "zero": false},
                  "axis": {"orient": "right", "values": [40,50,60,70,80,90], "labels": false, "tickSize": -7, "domain": false, "title": null}},
            "y2": {"field": "b"}
          }
        },
        {
          "data": {"values": [{"t0": 2.66739, "t1": 2.66815, "v": 88.1}]},
          "mark": {"type": "rule", "color": "black", "strokeWidth": 3},
          "encoding": {
            "x": {"field": "t0", "type": "quantitative", "scale": {"domain": [2.66, 2.67771], "nice": false, "zero": false}, "axis": null},
            "x2": {"field": "t1"},
            "y": {"field": "v", "type": "quantitative", "scale": {"domain": [40, 95], "nice": false, "zero": false}, "axis": null}
          }
        },
        {
          "data": {"values": [{"t": 2.666977, "v": 88.1}]},
          "mark": {"type": "point", "shape": "M -1 0 L 1 -0.667 L 1 0.667 Z", "size": 729, "filled": true, "color": "black", "opacity": 1},
          "encoding": {
            "x": {"field": "t", "type": "quantitative", "scale": {"domain": [2.66, 2.67771], "nice": false, "zero": false}, "axis": null},
            "y": {"field": "v", "type": "quantitative", "scale": {"domain": [40, 95], "nice": false, "zero": false}, "axis": null}
          }
        },
        {
          "data": {"values": [{"t": 2.668458, "v": 83.3, "label": "EHO cycle"}]},
          "mark": {"type": "text", "align": "left", "baseline": "alphabetic", "fontSize": 33, "fontWeight": "bold", "font": "Liberation Sans", "color": "black"},
          "encoding": {
            "x": {"field": "t", "type": "quantitative", "scale": {"domain": [2.66, 2.67771], "nice": false, "zero": false}, "axis": null},
            "y": {"field": "v", "type": "quantitative", "scale": {"domain": [40, 95], "nice": false, "zero": false}, "axis": null},
            "text": {"field": "label"}
          }
        }
      ],
      "resolve": {"axis": {"x": "independent", "y": "independent"}}
    },
    {
      "width": 580, "height": 162,
      "title": {"text": "Fast midplane magnetic pickup-coil", "dx": -24, "offset": 5},
      "layer": [
        {
          "data": {"values": [{"t0": 2.665, "t1": 2.66661, "y0": 2.25, "y1": -3.40}]},
          "mark": {"type": "rect", "color": "#d9d9d9", "clip": false},
          "encoding": {
            "x": {"field": "t0", "type": "quantitative", "scale": {"domain": [2.66, 2.67771], "nice": false, "zero": false},
                  "axis": {"orient": "top", "values": [2.66,2.661,2.662,2.663,2.664,2.665,2.666,2.667,2.668,2.669,2.67,2.671,2.672,2.673,2.674,2.675,2.676,2.677], "labels": false, "tickSize": -5, "title": null}},
            "x2": {"field": "t1"},
            "y": {"field": "y0", "type": "quantitative", "scale": {"domain": [-2.08, 2.25], "nice": false, "zero": false}, "axis": null},
            "y2": {"field": "y1"}
          }
        },
        {
          "data": {"name": "mag"},
          "mark": {"type": "area", "color": "black", "opacity": 1, "clip": true},
          "encoding": {
            "x": {"field": "t", "type": "quantitative", "scale": {"domain": [2.66, 2.67771], "nice": false, "zero": false},
                  "axis": {"orient": "bottom", "values": [2.66,2.661,2.662,2.663,2.664,2.665,2.666,2.667,2.668,2.669,2.67,2.671,2.672,2.673,2.674,2.675,2.676,2.677], "labels": false, "tickSize": -5, "title": null}},
            "y": {"field": "hi", "type": "quantitative", "scale": {"domain": [-2.08, 2.25], "nice": false, "zero": false},
                  "axis": {"orient": "left", "values": [-2,-1,0,1,2], "tickSize": -12, "labelPadding": 20, "labelFontSize": 20, "labelExpr": "datum.value == 0 ? '0' : ''", "title": "[a.u.]", "titleFontSize": 24, "titleX": -62, "titleY": 80, "titleAngle": -90, "titleAlign": "center", "titleBaseline": "middle"}},
            "y2": {"field": "lo"}
          }
        },
        {
          "data": {"name": "magSpk"},
          "mark": {"type": "rule", "color": "black", "strokeWidth": 1.2, "clip": true},
          "encoding": {
            "x": {"field": "t", "type": "quantitative", "scale": {"domain": [2.66, 2.67771], "nice": false, "zero": false}, "axis": null},
            "y": {"field": "a", "type": "quantitative", "scale": {"domain": [-2.08, 2.25], "nice": false, "zero": false},
                  "axis": {"orient": "right", "values": [-2,-1,0,1,2], "labels": false, "tickSize": -7, "domain": false, "title": null}},
            "y2": {"field": "b"}
          }
        },
        {
          "data": {"values": [{"t0": 2.67426, "t1": 2.67771, "y0": -0.58, "y1": -2.08}]},
          "mark": {"type": "rect", "color": "white", "opacity": 1},
          "encoding": {
            "x": {"field": "t0", "type": "quantitative", "scale": {"domain": [2.66, 2.67771], "nice": false, "zero": false}, "axis": null},
            "x2": {"field": "t1"},
            "y": {"field": "y0", "type": "quantitative", "scale": {"domain": [-2.08, 2.25], "nice": false, "zero": false}, "axis": null},
            "y2": {"field": "y1"}
          }
        },
        {
          "data": {"values": [{"t": 2.674321, "v": -1.759, "label": "HFO"}]},
          "mark": {"type": "text", "align": "left", "baseline": "alphabetic", "fontSize": 46, "fontWeight": "bold", "font": "Liberation Sans", "color": "black"},
          "encoding": {
            "x": {"field": "t", "type": "quantitative", "scale": {"domain": [2.66, 2.67771], "nice": false, "zero": false}, "axis": null},
            "y": {"field": "v", "type": "quantitative", "scale": {"domain": [-2.08, 2.25], "nice": false, "zero": false}, "axis": null},
            "text": {"field": "label"}
          }
        }
      ],
      "resolve": {"axis": {"x": "independent", "y": "independent"}}
    },
    {
      "width": 580, "height": 162,
      "title": {"text": "Outer divertor H-alpha intensity", "dx": -37, "offset": -3, "fontSize": 35},
      "layer": [
        {
          "data": {"values": [{"t0": 2.665, "t1": 2.66661}]},
          "mark": {"type": "rect", "color": "#d9d9d9"},
          "encoding": {
            "x": {"field": "t0", "type": "quantitative", "scale": {"domain": [2.66, 2.67771], "nice": false, "zero": false},
                  "axis": {"orient": "top", "values": [2.66,2.661,2.662,2.663,2.664,2.665,2.666,2.667,2.668,2.669,2.67,2.671,2.672,2.673,2.674,2.675,2.676,2.677], "labels": false, "tickSize": -5, "title": null}},
            "x2": {"field": "t1"}
          }
        },
        {
          "data": {"name": "ha"},
          "mark": {"type": "area", "color": "black", "opacity": 1, "clip": true},
          "encoding": {
            "x": {"field": "t", "type": "quantitative", "scale": {"domain": [2.66, 2.67771], "nice": false, "zero": false},
                  "axis": {"orient": "bottom", "values": [2.66,2.661,2.662,2.663,2.664,2.665,2.666,2.667,2.668,2.669,2.67,2.671,2.672,2.673,2.674,2.675,2.676,2.677], "tickSize": -5, "labelPadding": 11, "labelFontSize": 31, "labelBaseline": "top", "labelExpr": "abs(datum.value-2.66)<1e-6 ? '2.66' : (abs(datum.value-2.67)<1e-6 ? '2.67' : '')", "title": "time [s]", "titleFontSize": 30, "titleX": 304, "titleY": 69, "titleAlign": "center", "titleBaseline": "alphabetic"}},
            "y": {"field": "hi", "type": "quantitative", "scale": {"domain": [0.1, 0.3], "nice": false, "zero": false},
                  "axis": {"orient": "left", "values": [0.1,0.15,0.2,0.25,0.3], "tickSize": -12, "labelPadding": 20, "labelFontSize": 20, "labelExpr": "abs(datum.value-0.1)<1e-6 ? '0.1' : (abs(datum.value-0.2)<1e-6 ? '0.2' : (abs(datum.value-0.3)<1e-6 ? '0.3' : ''))", "title": "[a.u.]", "titleFontSize": 24, "titleX": -62, "titleY": 90, "titleAngle": -90, "titleAlign": "center", "titleBaseline": "middle"}},
            "y2": {"field": "lo"}
          }
        },
        {
          "data": {"name": "haSpk"},
          "mark": {"type": "rule", "color": "black", "strokeWidth": 1.2, "clip": true},
          "encoding": {
            "x": {"field": "t", "type": "quantitative", "scale": {"domain": [2.66, 2.67771], "nice": false, "zero": false}, "axis": null},
            "y": {"field": "a", "type": "quantitative", "scale": {"domain": [0.1, 0.3], "nice": false, "zero": false},
                  "axis": {"orient": "right", "values": [0.1,0.15,0.2,0.25,0.3], "labels": false, "tickSize": -7, "domain": false, "title": null}},
            "y2": {"field": "b"}
          }
        },
        {
          "data": {"values": [{"t": 2.66916, "v": 0.2594, "label": "ASDEX Upgrade #16111"}]},
          "mark": {"type": "text", "align": "left", "baseline": "alphabetic", "fontSize": 22, "font": "Liberation Sans", "color": "#333"},
          "encoding": {
            "x": {"field": "t", "type": "quantitative", "scale": {"domain": [2.66, 2.67771], "nice": false, "zero": false}, "axis": null},
            "y": {"field": "v", "type": "quantitative", "scale": {"domain": [0.1, 0.3], "nice": false, "zero": false}, "axis": null},
            "text": {"field": "label"}
          }
        }
      ],
      "resolve": {"axis": {"x": "independent", "y": "independent"}}
    }
  ]
}
